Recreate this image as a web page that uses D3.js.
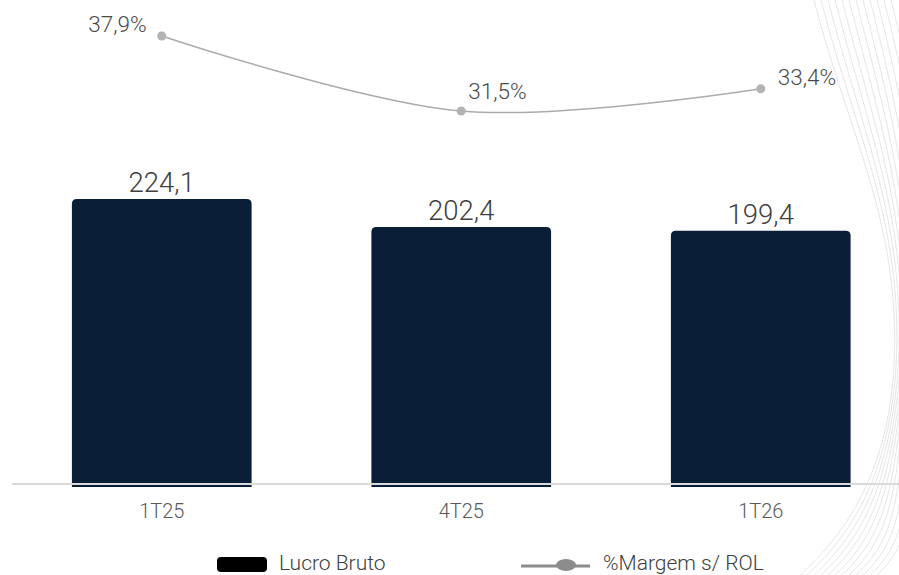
<!DOCTYPE html>
<html>
<head>
<meta charset="utf-8">
<script src="https://cdn.jsdelivr.net/npm/d3@7"></script>
<style>
  html, body { margin: 0; padding: 0; background: #fff; }
  svg { display: block; font-family: Roboto, "Open Sans", sans-serif; }
</style>
</head>
<body>
<svg id="chart" width="899" height="575"></svg>
<script>
const categories = ["1T25", "4T25", "1T26"];
const lucroBruto = [224.1, 202.4, 199.4];
const margem = [37.9, 31.5, 33.4];
const legendLabels = ["Lucro Bruto", "%Margem s/ ROL"];

const fmt = v => v.toFixed(1).replace(".", ",");

const svg = d3.select("#chart");
const W = 899, H = 575;

// decorative curves on the right
const deco = svg.append("g").attr("fill", "none").attr("stroke", "#e6e6e6").attr("stroke-width", 1);
for (let i = 0; i < 12; i++) {
  const o = i * 7;
  deco.append("path")
    .attr("d", `M${814 + o},0 C${850 + o},140 ${905 + o * 0.3},230 ${893 + o * 0.3},380 C${885 + o * 0.2},470 ${850 + o},530 ${800 + o},${H}`);
}

const x = d3.scaleBand().domain(categories).range([12, 910.5]).paddingInner(0.4).paddingOuter(0.2);
const yBar = d3.scaleLinear().domain([0, 224.1]).range([487, 199]);
const yLine = d3.scaleLinear().domain([31.5, 37.9]).range([111, 36]);

// bars
const r = 5;
svg.append("g").selectAll("path").data(lucroBruto).join("path")
  .attr("fill", "#0B1E38")
  .attr("d", (d, i) => {
    const x0 = x(categories[i]), w = x.bandwidth(), y0 = yBar(d), y1 = yBar(0);
    return `M${x0},${y1} L${x0},${y0 + r} Q${x0},${y0} ${x0 + r},${y0} L${x0 + w - r},${y0} Q${x0 + w},${y0} ${x0 + w},${y0 + r} L${x0 + w},${y1} Z`;
  });

// axis line
svg.append("line").attr("x1", 12).attr("x2", W).attr("y1", 484).attr("y2", 484)
  .attr("stroke", "#d9d9d9").attr("stroke-width", 2);

// category labels
const xAxis = svg.append("g").attr("transform", "translate(0,484)")
  .call(d3.axisBottom(x).tickSize(0).tickPadding(0));
xAxis.select(".domain").remove();
xAxis.selectAll("text").attr("dy", null).attr("y", 34).attr("font-size", 20).attr("fill", "#595959").attr("font-weight", 300)
  .attr("font-family", "Roboto, sans-serif");

// bar value labels
svg.append("g").selectAll("text").data(lucroBruto).join("text")
  .attr("x", (d, i) => x(categories[i]) + x.bandwidth() / 2)
  .attr("y", d => yBar(d) - 7)
  .attr("text-anchor", "middle")
  .attr("font-size", 27.5).attr("font-weight", 300).attr("fill", "#404040")
  .text(d => fmt(d));

// line
const cx = i => x(categories[i]) + x.bandwidth() / 2;
const line = d3.line().x((d, i) => cx(i)).y(d => yLine(d)).curve(d3.curveCatmullRom.alpha(0));
svg.append("path").datum(margem).attr("d", line)
  .attr("fill", "none").attr("stroke", "#ababab").attr("stroke-width", 1.5);
svg.append("g").selectAll("circle").data(margem).join("circle")
  .attr("cx", (d, i) => cx(i)).attr("cy", d => yLine(d)).attr("r", 4.5).attr("fill", "#b3b3b3");

// line labels
const lblOff = [[-15, -4, "end"], [7, -12, "start"], [17, -4, "start"]];
svg.append("g").selectAll("text").data(margem).join("text")
  .attr("x", (d, i) => cx(i) + lblOff[i][0])
  .attr("y", (d, i) => yLine(d) + lblOff[i][1])
  .attr("text-anchor", (d, i) => lblOff[i][2])
  .attr("font-size", 22.5).attr("font-weight", 300).attr("fill", "#4a4a4a")
  .text(d => fmt(d) + "%");

// legend
const lg = svg.append("g");
lg.append("rect").attr("x", 217).attr("y", 557).attr("width", 50).attr("height", 15).attr("rx", 4).attr("fill", "#000");
lg.append("text").attr("x", 279).attr("y", 570).attr("font-size", 21).attr("font-weight", 300).attr("fill", "#404040").text(legendLabels[0]);
lg.append("line").attr("x1", 521).attr("x2", 590).attr("y1", 566).attr("y2", 566).attr("stroke", "#8c8c8c").attr("stroke-width", 3);
lg.append("ellipse").attr("cx", 566).attr("cy", 565).attr("rx", 10).attr("ry", 6).attr("fill", "#8c8c8c");
lg.append("text").attr("x", 603).attr("y", 570).attr("font-size", 21).attr("font-weight", 300).attr("fill", "#404040").text(legendLabels[1]);
</script>
</body>
</html>
